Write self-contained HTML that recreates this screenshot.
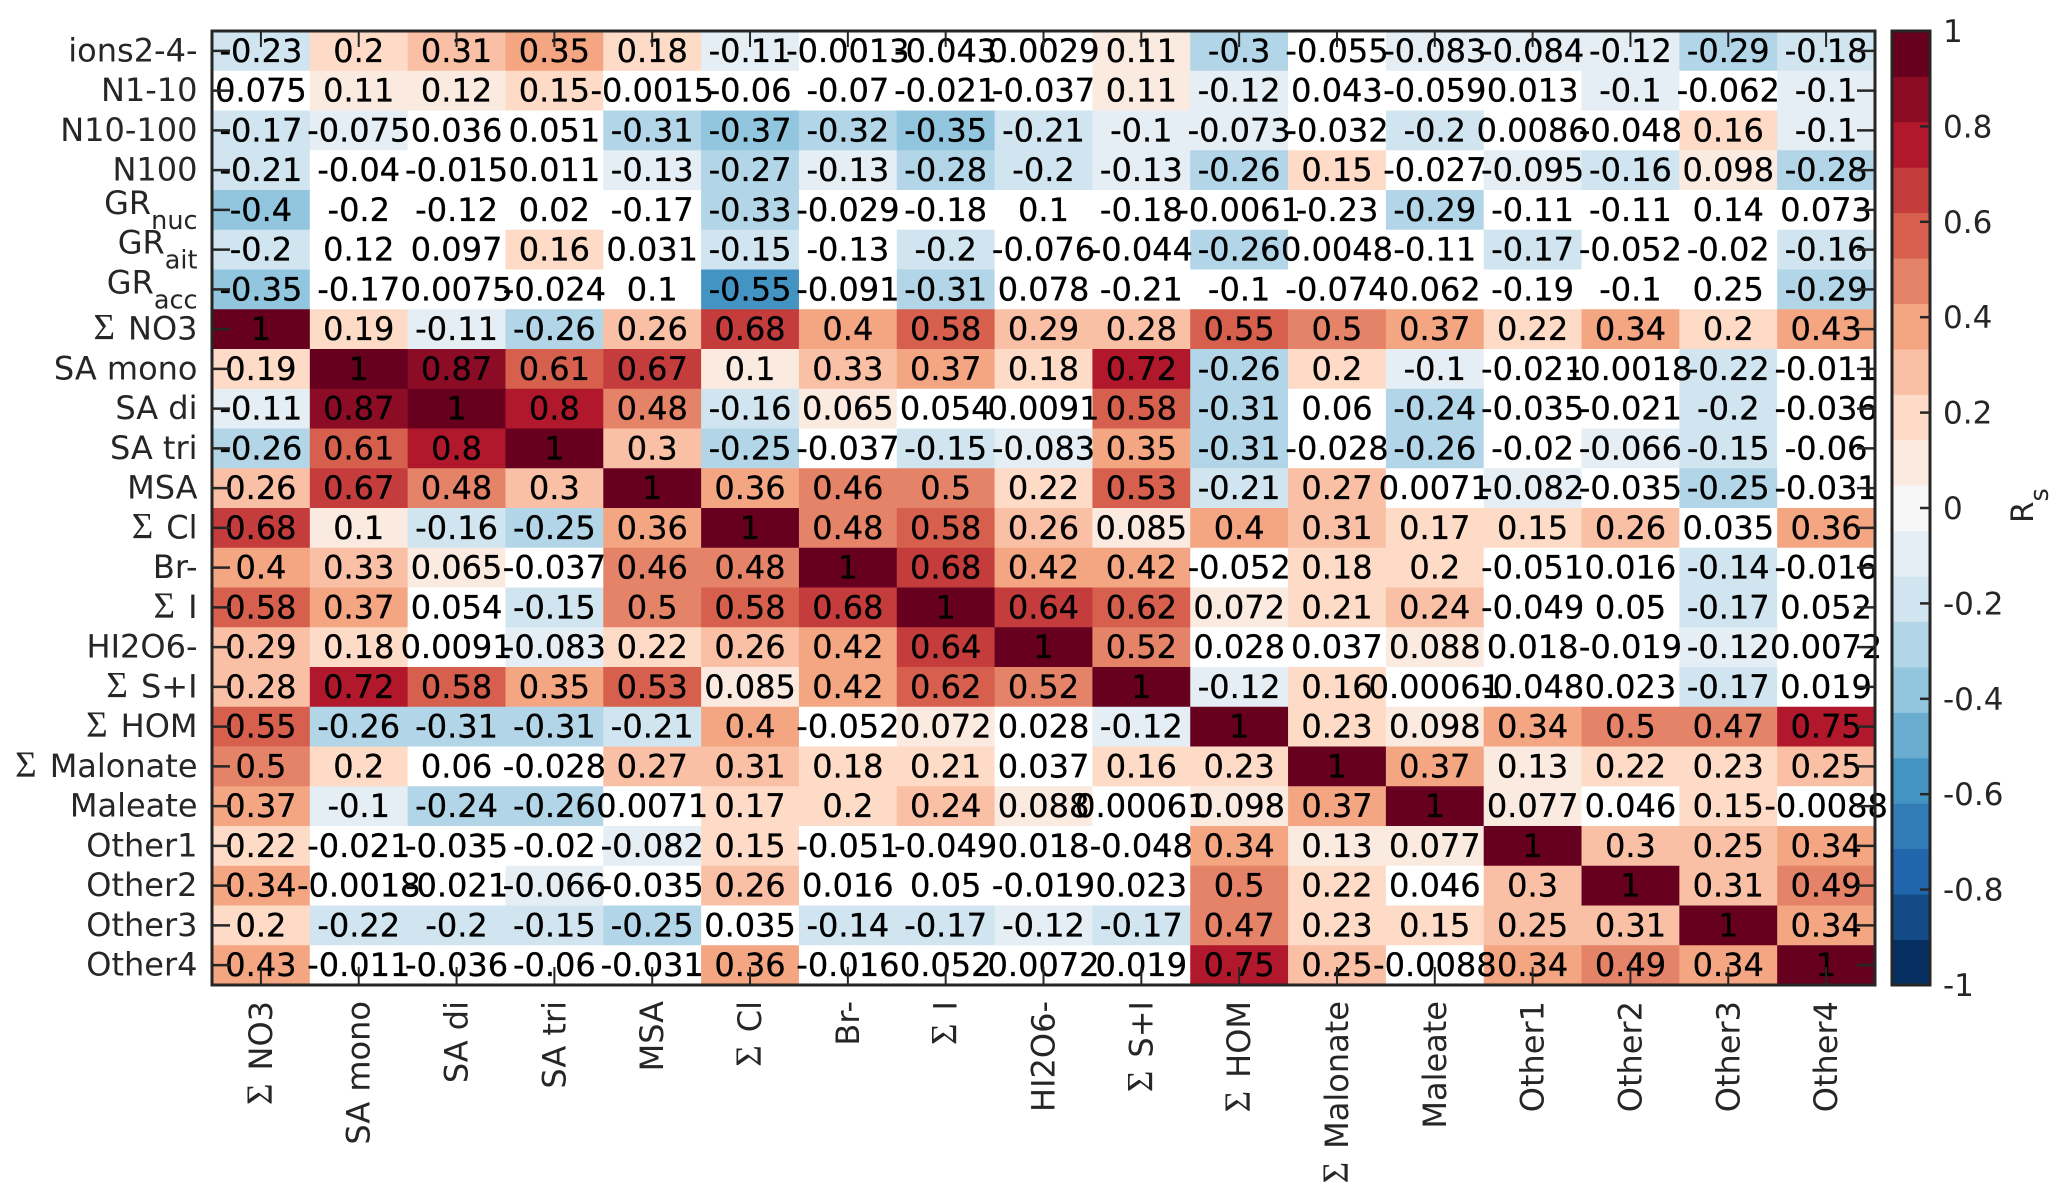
<!DOCTYPE html>
<html lang="en">
<head>
<meta charset="utf-8">
<title>Spearman correlation heatmap</title>
<style>
html,body{margin:0;padding:0;background:#fff;}
svg{display:block;}
text{font-family:"DejaVu Sans","Liberation Sans",sans-serif;}
.sig{font-family:"Liberation Serif","DejaVu Serif",serif;}
</style>
</head>
<body>
<svg id="chart" xmlns="http://www.w3.org/2000/svg" width="2067" height="1199" viewBox="0 0 2067 1199"></svg>
<script>
const yLabels = ["ions2-4-","N1-10","N10-100","N100","GR_nuc","GR_ait","GR_acc","Σ NO3","SA mono","SA di","SA tri","MSA","Σ Cl","Br-","Σ I","HI2O6-","Σ S+I","Σ HOM","Σ Malonate","Maleate","Other1","Other2","Other3","Other4"];
const xLabels = ["Σ NO3","SA mono","SA di","SA tri","MSA","Σ Cl","Br-","Σ I","HI2O6-","Σ S+I","Σ HOM","Σ Malonate","Maleate","Other1","Other2","Other3","Other4"];
const values = [
[-0.23,0.2,0.31,0.35,0.18,-0.11,-0.0013,-0.043,0.0029,0.11,-0.3,-0.055,-0.083,-0.084,-0.12,-0.29,-0.18],
[0.075,0.11,0.12,0.15,-0.0015,-0.06,-0.07,-0.021,-0.037,0.11,-0.12,0.043,-0.059,0.013,-0.1,-0.062,-0.1],
[-0.17,-0.075,0.036,0.051,-0.31,-0.37,-0.32,-0.35,-0.21,-0.1,-0.073,-0.032,-0.2,0.0086,-0.048,0.16,-0.1],
[-0.21,-0.04,-0.015,0.011,-0.13,-0.27,-0.13,-0.28,-0.2,-0.13,-0.26,0.15,-0.027,-0.095,-0.16,0.098,-0.28],
[-0.4,-0.2,-0.12,0.02,-0.17,-0.33,-0.029,-0.18,0.1,-0.18,-0.0061,-0.23,-0.29,-0.11,-0.11,0.14,0.073],
[-0.2,0.12,0.097,0.16,0.031,-0.15,-0.13,-0.2,-0.076,-0.044,-0.26,0.0048,-0.11,-0.17,-0.052,-0.02,-0.16],
[-0.35,-0.17,0.0075,-0.024,0.1,-0.55,-0.091,-0.31,0.078,-0.21,-0.1,-0.074,0.062,-0.19,-0.1,0.25,-0.29],
[1,0.19,-0.11,-0.26,0.26,0.68,0.4,0.58,0.29,0.28,0.55,0.5,0.37,0.22,0.34,0.2,0.428],
[0.19,1,0.87,0.61,0.67,0.1,0.33,0.37,0.18,0.72,-0.26,0.2,-0.1,-0.021,-0.0018,-0.22,-0.011],
[-0.11,0.87,1,0.8,0.48,-0.16,0.065,0.054,0.0091,0.58,-0.31,0.06,-0.24,-0.035,-0.021,-0.2,-0.036],
[-0.26,0.61,0.8,1,0.3,-0.25,-0.037,-0.15,-0.083,0.35,-0.31,-0.028,-0.26,-0.02,-0.066,-0.15,-0.06],
[0.26,0.67,0.48,0.3,1,0.36,0.46,0.5,0.22,0.53,-0.21,0.27,0.0071,-0.082,-0.035,-0.25,-0.031],
[0.68,0.1,-0.16,-0.25,0.36,1,0.48,0.58,0.26,0.085,0.4,0.31,0.17,0.15,0.26,0.035,0.36],
[0.4,0.33,0.065,-0.037,0.46,0.48,1,0.68,0.42,0.42,-0.052,0.18,0.2,-0.051,0.016,-0.144,-0.016],
[0.58,0.37,0.054,-0.15,0.5,0.58,0.68,1,0.64,0.618,0.072,0.21,0.24,-0.049,0.05,-0.17,0.052],
[0.29,0.18,0.0091,-0.083,0.22,0.26,0.42,0.64,1,0.52,0.028,0.037,0.088,0.018,-0.019,-0.12,0.0072],
[0.28,0.72,0.58,0.35,0.53,0.085,0.42,0.618,0.52,1,-0.12,0.16,0.00061,-0.048,0.023,-0.17,0.019],
[0.55,-0.26,-0.31,-0.31,-0.21,0.4,-0.052,0.072,0.028,-0.12,1,0.23,0.098,0.34,0.5,0.47,0.75],
[0.5,0.2,0.06,-0.028,0.27,0.31,0.18,0.21,0.037,0.16,0.23,1,0.37,0.13,0.22,0.23,0.25],
[0.37,-0.1,-0.24,-0.26,0.0071,0.17,0.2,0.24,0.088,0.00061,0.098,0.37,1,0.077,0.046,0.15,-0.0088],
[0.22,-0.021,-0.035,-0.02,-0.082,0.15,-0.051,-0.049,0.018,-0.048,0.34,0.13,0.077,1,0.3,0.25,0.34],
[0.34,-0.0018,-0.021,-0.066,-0.035,0.26,0.016,0.05,-0.019,0.023,0.5,0.22,0.046,0.3,1,0.31,0.49],
[0.2,-0.22,-0.2,-0.15,-0.25,0.035,-0.144,-0.17,-0.12,-0.17,0.47,0.23,0.15,0.25,0.31,1,0.34],
[0.428,-0.011,-0.036,-0.06,-0.031,0.36,-0.016,0.052,0.0072,0.019,0.75,0.25,-0.0088,0.34,0.49,0.34,1]
];
const significanceThresholds = [0.07,0.09,0.06,0.07,0.26,0.14,0.27,0.0625,0.0625,0.0625,0.0625,0.0625,0.0625,0.0625,0.0625,0.0625,0.0625,0.0625,0.0625,0.0625,0.0625,0.0625,0.0625,0.0625];
const colorbarTicks = [1,0.8,0.6,0.4,0.2,0,-0.2,-0.4,-0.6,-0.8,-1];
const palette = ["#053061","#134b87","#2166ac","#327db7","#4393c3","#6bacd1","#92c5de","#b2d5e7","#d1e5f0","#e4eef4","#f7f7f7","#faeae0","#fddbc7","#f9c0a5","#f4a582","#e58368","#d6604d","#c43c3c","#b2182b","#8c0c25","#67001f"];

const NS = "http://www.w3.org/2000/svg";
const svg = document.getElementById("chart");
const plot = {left:212, right:1875, top:31, bottom:985};
const bar = {left:1892, right:1930, top:31, bottom:985};
const ink = "#262626";
const cellW = (plot.right - plot.left) / xLabels.length;
const cellH = (plot.bottom - plot.top) / yLabels.length;
const xPos = i => plot.left + i * cellW;
const yPos = i => plot.top + i * cellH;
const barY = v => bar.top + (1 - v) / 2 * (bar.bottom - bar.top);
const binOf = v => Math.min(palette.length - 1, Math.floor((v + 1) / 2 * palette.length));
const fmt = v => String(Number(v.toPrecision(2)));

function make(tag, attrs, parent) {
  const el = document.createElementNS(NS, tag);
  for (const k in attrs) el.setAttribute(k, attrs[k]);
  (parent || svg).appendChild(el);
  return el;
}
function writeLabel(t, label) {
  if (label.indexOf("_") >= 0) {
    const parts = label.split("_");
    const a = make("tspan", {}, t);
    a.textContent = parts[0];
    const b = make("tspan", {"font-size":"25.5", dy:"15"}, t);
    b.textContent = parts[1];
  } else if (label.indexOf("Σ ") === 0) {
    const s = make("tspan", {"class":"sig", "font-size":"37"}, t);
    s.textContent = "Σ";
    const r = make("tspan", {dx:"13"}, t);
    r.textContent = label.slice(2);
  } else {
    t.textContent = label;
  }
}

const cellsG = make("g", {});


const annotG = make("g", {"font-size":"32", fill:"#000", stroke:"#000", "stroke-width":"0.3", "text-anchor":"middle"});



values.forEach((row, r) => {
  row.forEach((v, c) => {
    const masked = Math.abs(v) < significanceThresholds[r];
    const rect = make("rect", {x:xPos(c), y:yPos(r), width:cellW + 0.4, height:cellH + 0.4, fill: masked ? "#ffffff" : palette[binOf(v)]}, cellsG);
    
    
    const t = make("text", {x:xPos(c) + cellW / 2, y:yPos(r) + cellH / 2 + 11}, annotG);
    
    
    t.textContent = fmt(v);
  });
});

const tickG = make("g", {stroke:ink, "stroke-width":"2.5"});


yLabels.forEach((label, r) => {
  const y = yPos(r) + cellH / 2;
  const a = make("line", {x1:plot.left, x2:plot.left + 18, y1:y, y2:y}, tickG);
  
  
  const b = make("line", {x1:plot.right - 18, x2:plot.right, y1:y, y2:y}, tickG);
  
  
});
xLabels.forEach((label, c) => {
  const x = xPos(c) + cellW / 2;
  const a = make("line", {x1:x, x2:x, y1:plot.top, y2:plot.top + 16, "stroke-width":"2"}, tickG);
  
  
  const b = make("line", {x1:x, x2:x, y1:plot.bottom - 18, y2:plot.bottom, "stroke-width":"2"}, tickG);
  
  
});

const frame = make("rect", {x:plot.left, y:plot.top, width:plot.right - plot.left, height:plot.bottom - plot.top, fill:"none", stroke:ink, "stroke-width":"3"});



const yG = make("g", {"font-size":"32", fill:ink, "text-anchor":"end"});


yLabels.forEach((label, r) => {
  const sub = label.indexOf("_") >= 0;
  const t = make("text", {x:197.5, y:yPos(r) + cellH / 2 + (sub ? 4 : 10.5)}, yG);
  
  
  writeLabel(t, label);
});

const xG = make("g", {"font-size":"32", fill:ink, "text-anchor":"end"});


xLabels.forEach((label, c) => {
  const x = xPos(c) + cellW / 2 + 11;
  const t = make("text", {x:x, y:1001, transform:"rotate(-90 " + x + " 1001)"}, xG);
  
  
  writeLabel(t, label);
});

const barG = make("g", {});


palette.forEach((color, i) => {
  const hi = -1 + (i + 1) * 2 / palette.length;
  const lo = -1 + i * 2 / palette.length;
  const band = make("rect", {x:bar.left, y:barY(hi), width:bar.right - bar.left, height:barY(lo) - barY(hi) + 0.4, fill:color}, barG);
  
  
});
const barFrame = make("rect", {x:bar.left, y:bar.top, width:bar.right - bar.left, height:bar.bottom - bar.top, fill:"none", stroke:ink, "stroke-width":"3"}, barG);


colorbarTicks.forEach(v => {
  const y = barY(v);
  if (Math.abs(v) < 1) {
    const l = make("line", {x1:bar.right - 10, x2:bar.right, y1:y, y2:y, stroke:ink, "stroke-width":"2.5"}, barG);
    
    
  }
  const t = make("text", {x:1943, y:y + 11, "font-size":"31", fill:ink}, barG);
  
  
  t.textContent = String(v);
});

const rs = make("text", {x:2033, y:523, transform:"rotate(-90 2033 523)", "font-size":"31", fill:ink});


const rsR = make("tspan", {}, rs);
rsR.textContent = "R";
const rsS = make("tspan", {dy:"15", "font-size":"25.5"}, rs);
rsS.textContent = "s";
</script>
</body>
</html>
